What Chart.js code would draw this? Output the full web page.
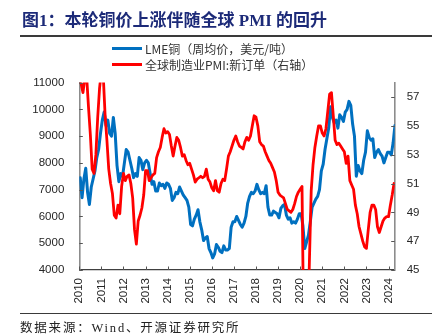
<!DOCTYPE html>
<html>
<head>
<meta charset="utf-8">
<script src="https://cdn.jsdelivr.net/npm/chart.js@4"></script>
<style>
  html, body { margin: 0; padding: 0; background: #fff; }
  #page { position: relative; width: 439px; height: 336px; overflow: hidden; background: #fff; }
  #title { position: absolute; left: 22px; top: 11px; font: bold 17px "Liberation Serif", "Noto Sans CJK SC", serif; color: #1c2a78; white-space: nowrap; line-height: 20px; }
  .rule { position: absolute; left: 20px; width: 412px; height: 1px; background: #3a3a3a; }
  #legend { position: absolute; left: 112px; top: 41px; font: 12px "Noto Sans CJK SC", sans-serif; color: #333; }
  #legend .item { display: flex; align-items: center; height: 15.5px; white-space: nowrap; }
  #legend .swatch { display: inline-block; width: 30px; height: 3px; margin-right: 3px; }
  #source { position: absolute; left: 20px; top: 319px; font: 12.5px "Liberation Serif", "Noto Sans CJK SC", serif; color: #222; letter-spacing: 1.8px; white-space: nowrap; line-height: 18px; }
  #chart { position: absolute; left: 0; top: 0; }
</style>
</head>
<body>
<div id="page">
  <canvas id="chart" width="439" height="336"></canvas>
  <div id="title">图1：本轮铜价上涨伴随全球 PMI 的回升</div>
  <div class="rule" style="top:35px;height:1.5px"></div>
  <div id="legend"></div>
  <div class="rule" style="top:313px"></div>
  <div id="source">数据来源：Wind、开源证券研究所</div>
</div>
<script>
// Monthly series starting January 2010
const startYear = 2010;

// LME copper, weekly average price (USD/t), one value per month
const copperPrice = [
  7450, 6700, 7400, 7800, 6900, 6450, 7100, 7400, 7700, 8200, 8500, 9100,   // 2010
  9600, 9900, 9400, 9600, 9100, 9000, 9700, 9100, 7900, 7300, 7600, 7500,   // 2011
  8000, 8500, 8400, 8100, 7800, 7450, 7600, 7500, 8200, 8100, 7750, 8000,   // 2012
  8100, 8000, 7600, 7200, 7300, 6950, 6950, 7250, 7150, 7200, 7050, 7250,   // 2013
  7200, 7050, 6600, 6700, 6900, 6850, 7100, 6950, 6800, 6700, 6600, 6350,   // 2014
  5700, 5650, 5900, 6050, 6250, 5800, 5500, 5100, 5200, 5250, 4800, 4650,   // 2015
  4450, 4600, 4950, 4850, 4700, 4650, 4900, 4750, 4750, 4800, 5600, 5800,   // 2016
  5800, 6000, 5850, 5700, 5600, 5750, 6000, 6500, 6750, 6900, 6850, 6950,   // 2017
  7200, 7000, 6850, 6900, 6850, 7150, 6350, 6050, 6050, 6200, 6150, 6100,   // 2018
  5950, 6300, 6400, 6450, 6050, 5900, 5950, 5750, 5800, 5750, 5900, 6100,   // 2019
  6100, 5650, 4800, 5050, 5300, 5800, 6350, 6500, 6650, 6750, 7000, 7700,   // 2020
  7950, 8500, 8900, 9300, 10100, 9700, 9500, 9600, 9300, 9800, 9700, 9550,  // 2021
  9900, 10000, 10300, 10150, 9450, 9000, 7500, 7900, 7700, 7600, 8100, 8400,// 2022
  9200, 8950, 8850, 8900, 8200, 8400, 8500, 8350, 8250, 8000, 8200, 8400,   // 2023
  8400, 8300, 8750, 9400                                                    // 2024
];

// Global manufacturing PMI: new orders (right axis)
const pmiNewOrders = [
  58.6, 57.9, 57.3, 58.3, 58.4, 56.3, 54.4, 52.0, 51.7, 53.0, 55.6, 57.6,   // 2010
  58.8, 58.5, 55.8, 54.0, 52.0, 51.0, 50.3, 48.8, 48.6, 49.5, 48.9, 50.8,   // 2011
  51.7, 51.2, 51.5, 51.6, 51.0, 50.0, 47.8, 46.8, 48.4, 48.8, 49.3, 50.2,   // 2012
  51.9, 51.9, 51.2, 51.4, 51.6, 51.7, 52.8, 53.2, 53.5, 54.2, 54.8, 54.5,   // 2013
  54.6, 54.4, 53.6, 52.9, 53.6, 54.2, 54.0, 53.5, 52.9, 53.0, 52.6, 52.3,   // 2014
  52.4, 52.0, 51.6, 51.1, 51.3, 51.4, 51.5, 51.4, 51.5, 52.0, 51.3, 51.1,   // 2015
  50.7, 50.5, 51.2, 50.5, 50.4, 51.0, 51.3, 51.2, 52.0, 52.9, 53.2, 53.6,   // 2016
  54.0, 54.3, 53.9, 53.6, 53.5, 53.4, 53.9, 54.2, 54.0, 54.3, 55.0, 55.7,   // 2017
  55.6, 55.0, 53.9, 53.7, 53.6, 53.2, 52.9, 52.6, 52.4, 52.1, 51.8, 51.2,   // 2018
  50.4, 50.2, 50.1, 50.0, 49.6, 49.2, 49.1, 49.0, 49.2, 49.6, 50.1, 50.4,   // 2019
  50.6, 50.8, 40.0, 35.0, 40.0, 45.5, 50.5, 52.3, 53.5, 54.3, 55.0, 55.0,   // 2020
  54.5, 54.3, 54.8, 56.0, 57.2, 57.3, 55.7, 54.0, 53.7, 53.8, 53.6, 53.4,   // 2021
  53.2, 52.4, 52.9, 51.2, 50.9, 50.6, 49.5, 48.9, 48.0, 47.5, 47.0, 46.6,   // 2022
  46.5, 47.8, 49.0, 49.5, 49.5, 49.2, 48.0, 47.6, 48.0, 48.4, 48.6, 48.7,   // 2023
  48.7, 49.5, 50.2, 51.0                                                    // 2024
];

// Axis ticks
const yearTicks = [2010, 2011, 2012, 2013, 2014, 2015, 2016, 2017, 2018, 2019, 2020, 2021, 2022, 2023, 2024];
const priceTicks = [4000, 5000, 6000, 7000, 8000, 9000, 10000, 11000];
const pmiTicks = [45, 47, 49, 51, 53, 55, 57];

const seriesLabels = ['LME铜（周均价，美元/吨）', '全球制造业PMI:新订单（右轴）'];

// Monthly values are placed on a decimal-year axis
const toPoints = (values, offset) => values.map((v, i) => ({ x: startYear + i / 12 + offset, y: v }));

const tickFont = { family: '"Liberation Sans", Arial, sans-serif', size: 11.5 };
const tickColor = '#262626';

// Short tick marks pointing into the plot area
const innerTicks = {
  id: 'innerTicks',
  afterDraw(chart) {
    const { ctx, chartArea: a, scales } = chart;
    const len = 3.5;
    ctx.save();
    ctx.lineWidth = 1;
    ctx.strokeStyle = '#555';
    ctx.beginPath();
    scales.y.ticks.forEach(t => {
      const y = Math.round(scales.y.getPixelForValue(t.value)) + 0.5;
      ctx.moveTo(a.left, y); ctx.lineTo(a.left + len, y);
    });
    scales.y1.ticks.forEach(t => {
      const y = Math.round(scales.y1.getPixelForValue(t.value)) + 0.5;
      ctx.moveTo(a.right - len, y); ctx.lineTo(a.right, y);
    });
    scales.x.ticks.forEach(t => {
      const x = Math.round(scales.x.getPixelForValue(t.value)) + 0.5;
      ctx.moveTo(x, a.bottom); ctx.lineTo(x, a.bottom - len);
    });
    ctx.stroke();
    ctx.restore();
  }
};

const chart = new Chart(document.getElementById('chart'), {
  type: 'line',
  data: {
    datasets: [
      {
        label: seriesLabels[0],
        data: toPoints(copperPrice, 1 / 24),
        borderColor: '#0070c0',
        borderWidth: 3,
        yAxisID: 'y',
        order: 2
      },
      {
        label: seriesLabels[1],
        data: toPoints(pmiNewOrders, 0),
        borderColor: '#ff0000',
        borderWidth: 2.8,
        yAxisID: 'y1',
        order: 1
      }
    ]
  },
  options: {
    responsive: false,
    animation: false,
    devicePixelRatio: 1,
    layout: { padding: { top: 82.6, left: 0, right: 0, bottom: 0 } },
    elements: { point: { radius: 0 }, line: { tension: 0, borderJoinStyle: 'round', borderCapStyle: 'round' } },
    plugins: { legend: { display: false }, tooltip: { enabled: false } },
    scales: {
      x: {
        type: 'linear',
        min: 2010,
        max: 2024.28,
        afterBuildTicks: s => { s.ticks = yearTicks.map(v => ({ value: v })); },
        afterFit: s => { s.height = 66; },
        grid: { display: false, drawTicks: false },
        border: { color: '#404040', width: 1.3 },
        ticks: { autoSkip: false, minRotation: 90, maxRotation: 90, padding: 8, font: tickFont, color: tickColor, callback: v => String(v) }
      },
      y: {
        position: 'left',
        min: 4000,
        max: 11000,
        afterBuildTicks: s => { s.ticks = priceTicks.map(v => ({ value: v })); },
        afterFit: s => { s.width = 79.3; },
        grid: { display: false, drawTicks: false },
        border: { color: '#8c8c8c', width: 1.6 },
        ticks: { padding: 15, font: tickFont, color: tickColor, callback: v => String(v) }
      },
      y1: {
        position: 'right',
        min: 45,
        max: 58,
        afterBuildTicks: s => { s.ticks = pmiTicks.map(v => ({ value: v })); },
        afterFit: s => { s.width = 44.3; },
        grid: { display: false, drawTicks: false },
        border: { color: '#8c8c8c', width: 1.6 },
        ticks: { padding: 12, font: tickFont, color: tickColor, callback: v => String(v) }
      }
    }
  },
  plugins: [innerTicks]
});

// Legend rows built from the chart's datasets
const legendEl = document.getElementById('legend');
chart.data.datasets.forEach(ds => {
  const row = document.createElement('div');
  row.className = 'item';
  const sw = document.createElement('span');
  sw.className = 'swatch';
  sw.style.background = ds.borderColor;
  const txt = document.createElement('span');
  txt.textContent = ds.label;
  row.appendChild(sw);
  row.appendChild(txt);
  legendEl.appendChild(row);
});
</script>
</body>
</html>
